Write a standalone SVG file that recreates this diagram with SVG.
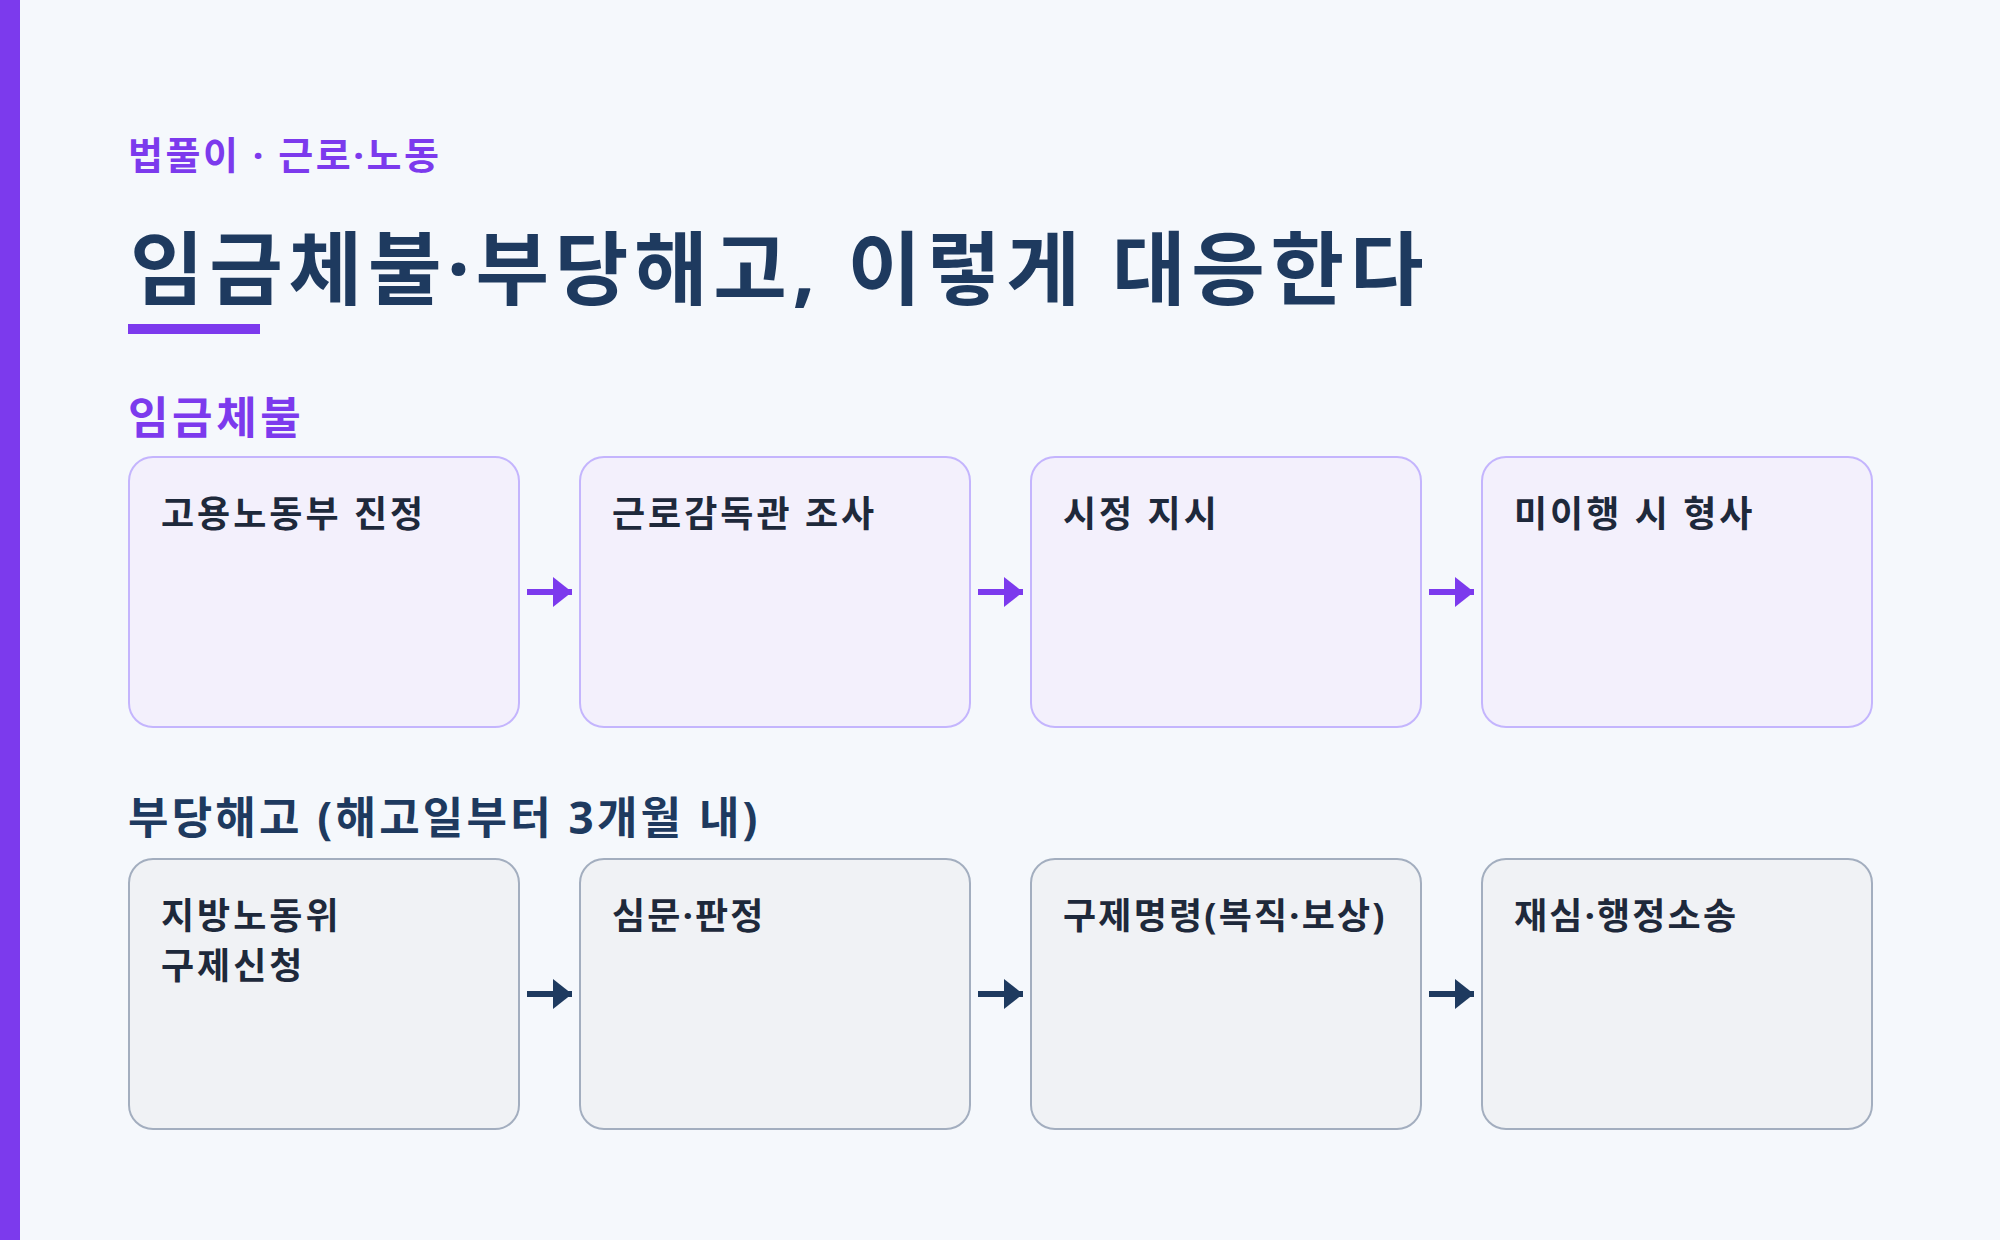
<svg xmlns="http://www.w3.org/2000/svg" width="2000" height="1240" viewBox="0 0 2000 1240">
<defs>
<style>
.t{font-family:"Noto Sans","Noto Sans CJK KR",sans-serif;font-weight:700}
.lab{font-size:38px;fill:#7c3aed;letter-spacing:2.5px}
.title{font-size:80px;fill:#1e3a5f;letter-spacing:5.7px}
.sec1{font-size:44px;fill:#7c3aed;letter-spacing:3.6px}
.sec2{font-size:44px;fill:#1e3a5f;letter-spacing:3.2px}
.bt{font-size:36px;fill:#1e293b;letter-spacing:3px}
.bd{letter-spacing:2.2px}
.b1{fill:#f3f0fc;stroke:#c4b5fd;stroke-width:2}
.b2{fill:#f0f2f5;stroke:#a3aebf;stroke-width:2}
.a1{stroke:#7c3aed;stroke-width:6;fill:none;marker-end:url(#m1)}
.a2{stroke:#1e3a5f;stroke-width:6;fill:none;marker-end:url(#m2)}
</style>
<marker id="m1" markerUnits="userSpaceOnUse" markerWidth="20" markerHeight="30" refX="19" refY="15" orient="auto"><path d="M0,0 L19,15 L0,30 Z" fill="#7c3aed"/></marker>
<marker id="m2" markerUnits="userSpaceOnUse" markerWidth="20" markerHeight="30" refX="19" refY="15" orient="auto"><path d="M0,0 L19,15 L0,30 Z" fill="#1e3a5f"/></marker>
</defs>
<rect width="2000" height="1240" fill="#f5f8fc"/>
<rect x="0" y="0" width="20" height="1240" fill="#7c3aed"/>
<text class="t lab" x="128" y="169">법풀이 · 근로·노동</text>
<text class="t title" x="130" y="298">임금체불·부당해고, 이렇게 대응한다</text>
<rect x="128" y="324" width="132" height="10" fill="#7c3aed"/>
<text class="t sec1" x="128" y="434">임금체불</text>
<text class="t sec2" x="128" y="834">부당해고 (해고일부터 3개월 내)</text>
<g id="connectors">
<line class="a1" x1="527" y1="592" x2="572" y2="592"/>
<line class="a1" x1="978" y1="592" x2="1023" y2="592"/>
<line class="a1" x1="1429" y1="592" x2="1474" y2="592"/>
<line class="a2" x1="527" y1="994" x2="572" y2="994"/>
<line class="a2" x1="978" y1="994" x2="1023" y2="994"/>
<line class="a2" x1="1429" y1="994" x2="1474" y2="994"/>
</g>
<g id="n1"><rect class="b1" x="129" y="457" width="390" height="270" rx="24"/><text class="t bt" x="161" y="527">고용노동부 진정</text></g>
<g id="n2"><rect class="b1" x="580" y="457" width="390" height="270" rx="24"/><text class="t bt" x="612" y="527">근로감독관 조사</text></g>
<g id="n3"><rect class="b1" x="1031" y="457" width="390" height="270" rx="24"/><text class="t bt" x="1063" y="527">시정 지시</text></g>
<g id="n4"><rect class="b1" x="1482" y="457" width="390" height="270" rx="24"/><text class="t bt" x="1514" y="527">미이행 시 형사</text></g>
<g id="n5"><rect class="b2" x="129" y="859" width="390" height="270" rx="24"/><text class="t bt" x="161" y="929">지방노동위</text><text class="t bt" x="161" y="979">구제신청</text></g>
<g id="n6"><rect class="b2" x="580" y="859" width="390" height="270" rx="24"/><text class="t bt bd" x="612" y="929">심문·판정</text></g>
<g id="n7"><rect class="b2" x="1031" y="859" width="390" height="270" rx="24"/><text class="t bt bd" x="1063" y="929">구제명령(복직·보상)</text></g>
<g id="n8"><rect class="b2" x="1482" y="859" width="390" height="270" rx="24"/><text class="t bt bd" x="1514" y="929">재심·행정소송</text></g>
</svg>
